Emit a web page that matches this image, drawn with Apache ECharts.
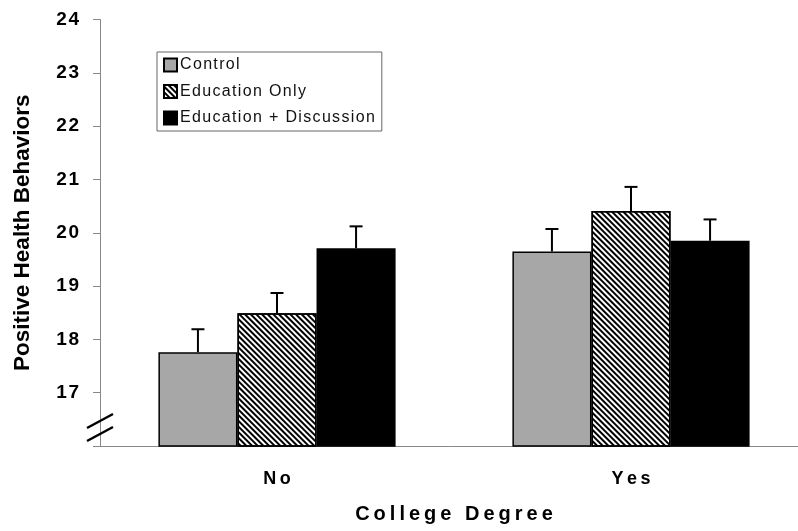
<!DOCTYPE html>
<html>
<head>
<meta charset="UTF-8">
<title>Positive Health Behaviors</title>
<script src="https://cdn.jsdelivr.net/npm/echarts@6/dist/echarts.min.js"></script>
<style>
body { margin: 0; background: #fff; }
#chart { width: 798px; height: 531px; }
</style>
</head>
<body>
<div id="chart"></div>
<script>
// data
var categories = ['No', 'Yes'];
var groupNames = ['Control', 'Education Only', 'Education + Discussion'];
var controlMeans = [17.76, 19.65];
var eduMeans = [18.49, 20.41];
var discMeans = [19.71, 19.85];
var controlSE = [0.43, 0.42];
var eduSE = [0.38, 0.45];
var discSE = [0.41, 0.40];
var yMin = 16, yMax = 24, yStep = 1;

var FONT = 'Liberation Sans';
var GAP = 0.33;   // bar category gap

// poor man's letter spacing
function spaced(s, sp) { return s.split('').join(sp); }

var means = [controlMeans, eduMeans, discMeans];
var ses = [controlSE, eduSE, discSE];

var barStyles = [
    { color: '#a7a7a7', borderColor: '#000', borderWidth: 1.5 },
    { color: '#fff', borderColor: '#000', borderWidth: 1.5,
      decal: { symbol: 'rect', symbolSize: 1, dashArrayX: [1, 0], dashArrayY: [2, 2],
               rotation: Math.PI / 4, color: '#000' } },
    { color: '#000', borderColor: '#000', borderWidth: 1.5 }
];

function errRenderer(k) {
    return function (params, api) {
        var cat = api.value(0), m = api.value(1), se = api.value(2);
        var band = api.size([1, 0])[0];
        var bw = band * (1 - GAP) / 3;
        var p0 = api.coord([cat, m]);
        var p1 = api.coord([cat, m + se]);
        var x = p0[0] + (k - 1) * bw;
        var st = { stroke: '#000', lineWidth: 2 };
        return {
            type: 'group',
            children: [
                { type: 'line', shape: { x1: x, y1: p0[1], x2: x, y2: p1[1] }, style: st },
                { type: 'line', shape: { x1: x - 6.5, y1: p1[1], x2: x + 6.5, y2: p1[1] }, style: st }
            ]
        };
    };
}

var series = [];
for (var k = 0; k < 3; k++) {
    series.push({
        name: groupNames[k],
        type: 'bar',
        data: means[k],
        barGap: 0,
        barCategoryGap: (GAP * 100) + '%',
        itemStyle: barStyles[k],
        emphasis: { disabled: true }
    });
}
for (var k = 0; k < 3; k++) {
    var d = [];
    for (var i = 0; i < categories.length; i++) d.push([i, means[k][i], ses[k][i]]);
    series.push({
        name: 'err' + k,
        type: 'custom',
        renderItem: errRenderer(k),
        data: d,
        z: 5,
        silent: true
    });
}

var chart = echarts.init(document.getElementById('chart'));
chart.setOption({
    animation: false,
    backgroundColor: '#fff',
    // right edge runs past the canvas, like the original
    grid: { left: 100, width: 708, top: 19.5, height: 426.5, outerBoundsMode: 'none' },
    legend: {
        data: groupNames,
        orient: 'vertical',
        left: 157,
        top: 52,
        padding: [5, 7, 5, 6],
        itemGap: 10.5,
        itemWidth: 13,
        itemHeight: 13,
        icon: 'rect',
        borderColor: '#666',
        borderWidth: 1,
        selectedMode: false,
        formatter: function (n) { return spaced(n, '\u200A'); },
        textStyle: { fontFamily: FONT, fontSize: 16, color: '#111', padding: [0, 0, 0, -2] }
    },
    xAxis: {
        type: 'category',
        data: categories,
        name: spaced('College Degree', '\u2009'),
        nameLocation: 'middle',
        nameGap: 58,
        nameTextStyle: { fontFamily: FONT, fontWeight: 'bold', fontSize: 20, color: '#000' },
        axisLine: { lineStyle: { color: '#888', width: 1 } },
        axisTick: { length: 7, lineStyle: { color: '#444' } },
        axisLabel: {
            margin: 24,
            fontFamily: FONT, fontWeight: 'bold', fontSize: 18, color: '#000',
            formatter: function (v) { return spaced(v, '\u2009'); }
        }
    },
    yAxis: {
        type: 'value',
        min: yMin,
        max: yMax,
        interval: yStep,
        name: 'Positive Health Behaviors',
        nameLocation: 'middle',
        nameGap: 66,
        nameTextStyle: { fontFamily: FONT, fontWeight: 'bold', fontSize: 22.5, color: '#000' },
        axisLine: { show: true, lineStyle: { color: '#888', width: 1 } },
        axisTick: { show: true, length: 7, lineStyle: { color: '#888' } },
        splitLine: { show: false },
        axisLabel: {
            margin: 21,
            fontFamily: FONT, fontWeight: 'bold', fontSize: 19, color: '#000',
            formatter: function (v) { return v === yMin ? '' : spaced(String(v), '\u200A'); }
        }
    },
    // axis break marks
    graphic: [
        { type: 'line', shape: { x1: 87, y1: 428, x2: 113, y2: 414 }, style: { stroke: '#000', lineWidth: 2.5 }, z: 10 },
        { type: 'line', shape: { x1: 87, y1: 441, x2: 113, y2: 427 }, style: { stroke: '#000', lineWidth: 2.5 }, z: 10 }
    ],
    series: series
});
</script>
</body>
</html>
